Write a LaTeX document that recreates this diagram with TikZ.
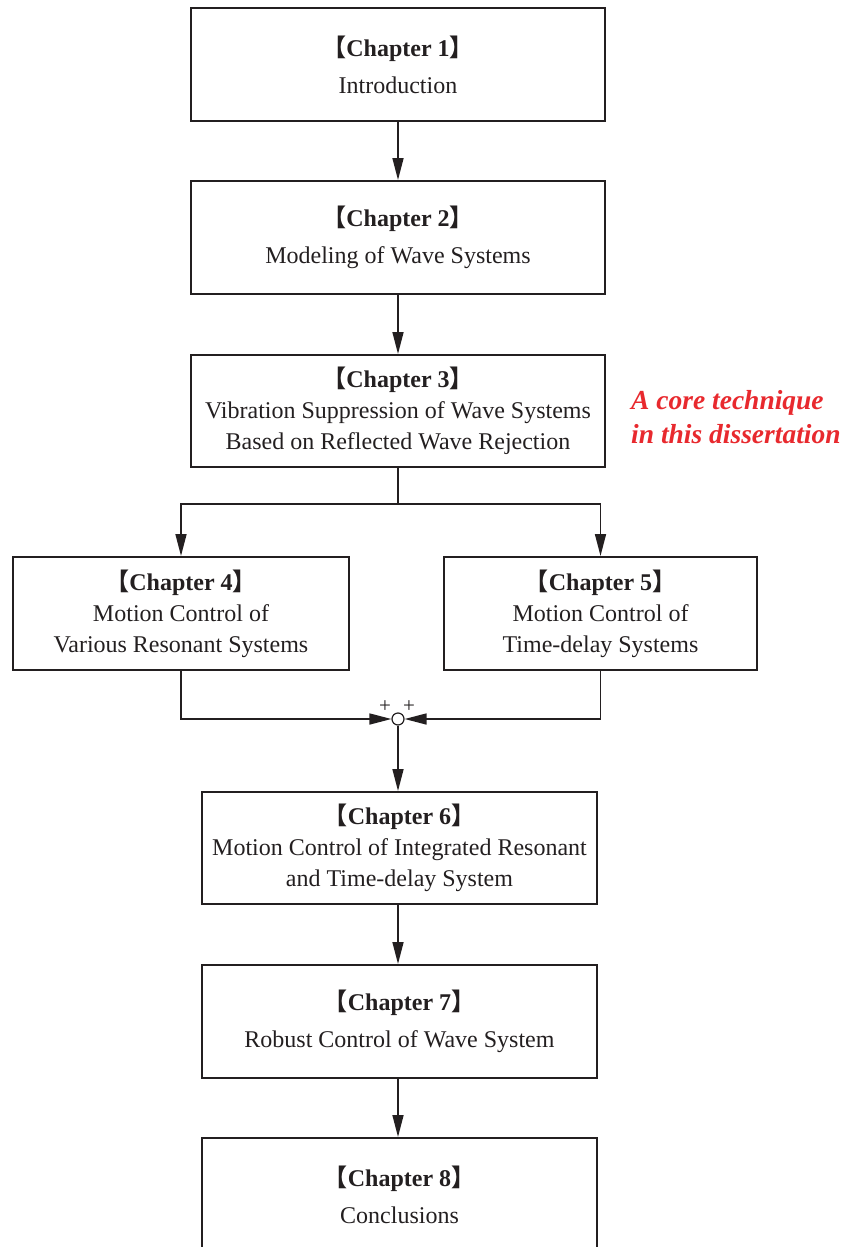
\documentclass[tikz,border=0pt]{standalone}
\usepackage{fontspec}
\setmainfont{Liberation Serif}
\newfontfamily\cjkb{Noto Sans CJK SC}
\usetikzlibrary{arrows.meta}
\definecolor{corered}{RGB}{232,41,46}
\definecolor{ink}{RGB}{35,31,32}
\newcommand{\chaphead}[1]{\textbf{{\cjkb 【}Chapter #1{\cjkb 】}}}
\begin{document}
\begin{tikzpicture}[x=1pt,y=-1pt,
  chapbox/.style={draw=ink, line width=2pt, align=center, inner sep=0pt,
    text=ink, font=\fontsize{24}{31}\selectfont},
  arr/.style={draw=ink, line width=1.6pt, -{Triangle[length=22pt,width=11pt]}},
  link/.style={draw=ink, line width=1.6pt}]
\useasboundingbox (0,0) rectangle (847,1247);
\clip (0,0) rectangle (847,1247);
\node[chapbox, minimum width=414pt, minimum height=113pt] (b1) at (398,64.5)
  {\chaphead{1}\\[6pt] Introduction};
\node[chapbox, minimum width=414pt, minimum height=113pt] (b2) at (398,237.5)
  {\chaphead{2}\\[6pt] Modeling of Wave Systems};
\node[chapbox, minimum width=414pt, minimum height=112pt] (b3) at (398,411)
  {\chaphead{3}\\ Vibration Suppression of Wave Systems\\ Based on Reflected Wave Rejection};
\node[chapbox, minimum width=336pt, minimum height=113pt] (b4) at (181,613.5)
  {\chaphead{4}\\ Motion Control of\\ Various Resonant Systems};
\node[chapbox, minimum width=313pt, minimum height=113pt] (b5) at (600.5,613.5)
  {\chaphead{5}\\ Motion Control of\\ Time-delay Systems};
\node[chapbox, minimum width=395pt, minimum height=112pt] (b6) at (399.5,848)
  {\chaphead{6}\\ Motion Control of Integrated Resonant\\ and Time-delay System};
\node[chapbox, minimum width=395pt, minimum height=113pt] (b7) at (399.5,1021.5)
  {\chaphead{7}\\[6pt] Robust Control of Wave System};
\node[chapbox, minimum width=395pt, minimum height=113pt] (b8) at (399.5,1194.5)
  {\chaphead{8}\\[6pt] Conclusions};
\node[draw=ink, line width=1.2pt, circle, minimum size=12pt, inner sep=0pt, fill=white] (sum) at (398,719) {};
\node[text=ink, font=\fontsize{21}{21}\selectfont, inner sep=0pt] (p1) at (385,707) {+};
\node[text=ink, font=\fontsize{21}{21}\selectfont, inner sep=0pt] (p2) at (409,707) {+};
\node[text=corered, anchor=west, align=left, inner sep=0pt,
  font=\fontsize{27.5}{34}\selectfont\bfseries\itshape] (core) at (631,417)
  {A core technique\\ in this dissertation};
\coordinate (split) at (398,504);
\draw[arr] (b1.south) -- (b2.north);
\draw[arr] (b2.south) -- (b3.north);
\draw[link] (b3.south) -- (split);
\draw[arr] (split) -| (b4.north);
\draw[arr] (split) -| (b5.north);
\draw[arr] (b4.south) |- (sum.west);
\draw[arr] (b5.south) |- (sum.east);
\draw[arr] (sum.south) -- (sum.south |- b6.north);
\draw[arr] (sum.south |- b6.south) -- (sum.south |- b7.north);
\draw[arr] (sum.south |- b7.south) -- (sum.south |- b8.north);
\end{tikzpicture}
\end{document}
